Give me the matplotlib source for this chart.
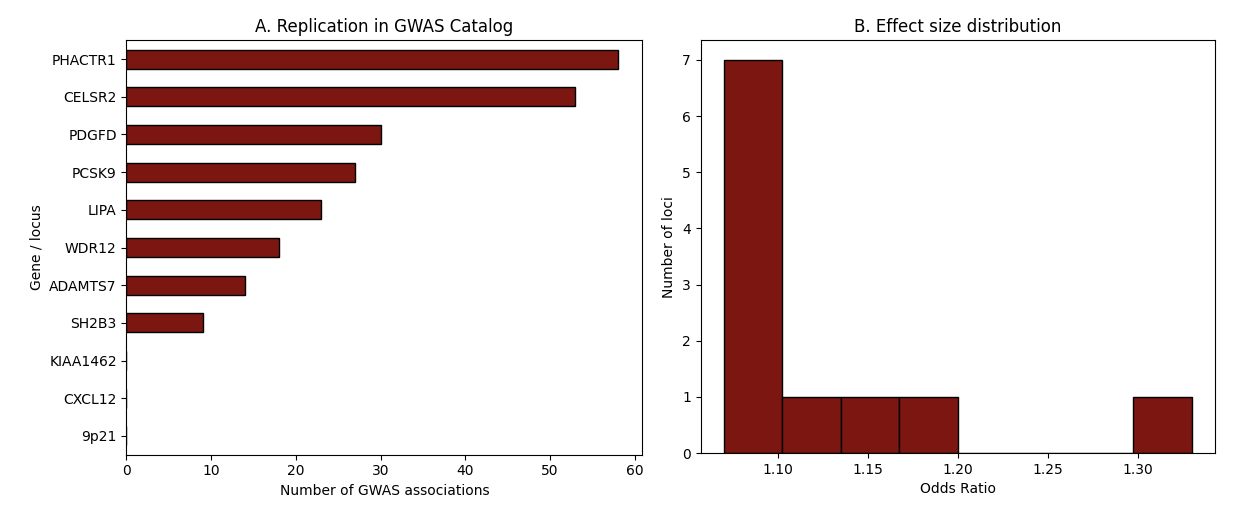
import matplotlib
matplotlib.use('Agg')
import matplotlib.pyplot as plt

# Panel A: GWAS Catalog replication counts per locus
genes = ["PHACTR1", "CELSR2", "PDGFD", "PCSK9", "LIPA", "WDR12",
         "ADAMTS7", "SH2B3", "KIAA1462", "CXCL12", "9p21"]
gwas_counts = [58, 53, 30, 27, 23, 18, 14, 9, 0, 0, 0]

# Panel B: odds ratios of the loci
odds_ratios = [1.07, 1.08, 1.08, 1.09, 1.09, 1.10, 1.10, 1.12, 1.15, 1.18, 1.33]

bar_color = '#7b1610'

fig = plt.figure(figsize=(12.4, 5.3), dpi=100)
ax1 = fig.add_axes([0.102, 0.142, 0.416, 0.782])
ax2 = fig.add_axes([0.565, 0.145, 0.415, 0.779])

ypos = list(range(len(genes)))
ax1.barh(ypos, gwas_counts, height=0.5, color=bar_color, edgecolor='black')
ax1.set_yticks(ypos)
ax1.set_yticklabels(genes)
ax1.set_ylim(len(genes) - 0.5, -0.5)
ax1.set_xlabel("Number of GWAS associations")
ax1.set_ylabel("Gene / locus")
ax1.set_title("A. Replication in GWAS Catalog")

ax2.hist(odds_ratios, bins=8, color=bar_color, edgecolor='black')
ax2.set_xlabel("Odds Ratio")
ax2.set_ylabel("Number of loci")
ax2.set_title("B. Effect size distribution")

fig.savefig("out.png")
plt.close(fig)
